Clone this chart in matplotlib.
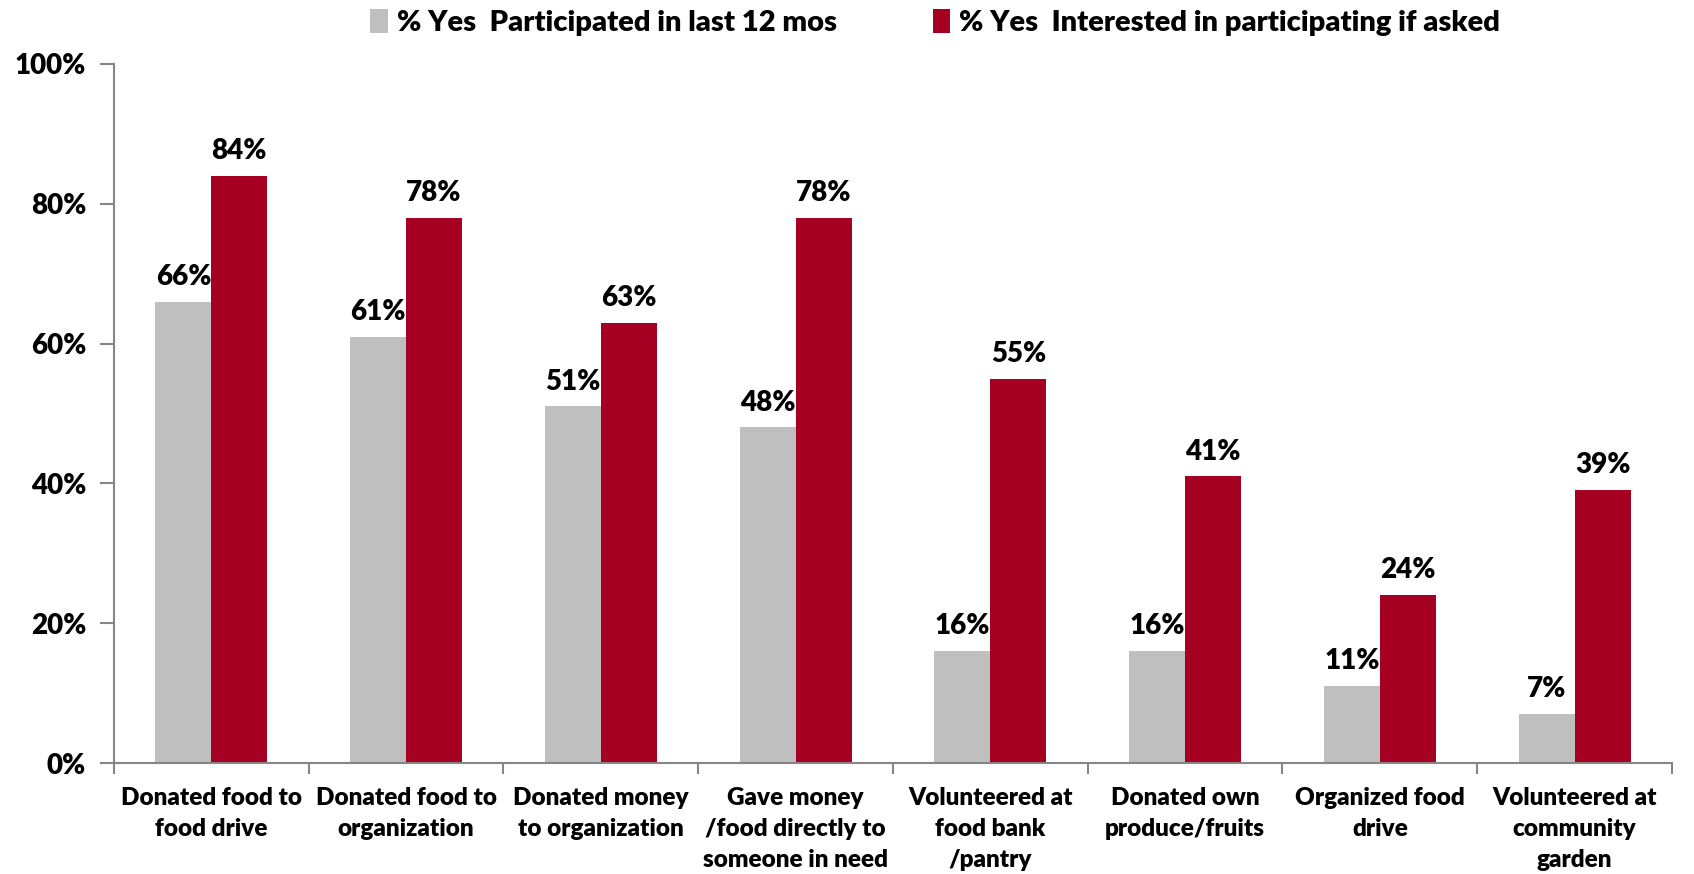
import matplotlib.pyplot as plt
import numpy as np
from matplotlib.ticker import PercentFormatter

plt.rcParams['font.family'] = ['Lato', 'DejaVu Sans']
plt.rcParams['font.weight'] = 'heavy'

categories = ['Donated food to\nfood drive', 'Donated food to\norganization',
              'Donated money\nto organization', 'Gave money\n/food directly to\nsomeone in need',
              'Volunteered at\nfood bank\n/pantry', 'Donated own\nproduce/fruits',
              'Organized food\ndrive', 'Volunteered at\ncommunity\ngarden']
participated = [66, 61, 51, 48, 16, 16, 11, 7]
interested = [84, 78, 63, 78, 55, 41, 24, 39]
series_names = ['% Yes  Participated in last 12 mos', '% Yes  Interested in participating if asked']
colors = ['#BFBFBF', '#A50021']

fig = plt.figure(figsize=(16.94, 8.74), dpi=100)
ax = fig.add_axes([0.0673, 0.127, 0.9197, 0.7998])

x = np.arange(len(categories))
w = 0.2875
b1 = ax.bar(x - w / 2, participated, w, color=colors[0], label=series_names[0])
b2 = ax.bar(x + w / 2, interested, w, color=colors[1], label=series_names[1])

# value labels above every bar
for bars, vals in ((b1, participated), (b2, interested)):
    for rect, v in zip(bars, vals):
        ax.text(rect.get_x() + rect.get_width() / 2, v + 1.7, f'{v}%',
                ha='center', va='bottom', fontsize=20, fontweight='heavy')

ax.set_xlim(-0.5, len(categories) - 0.5)
ax.set_ylim(0, 100)
ax.set_yticks(range(0, 101, 20))
ax.yaxis.set_major_formatter(PercentFormatter(decimals=0))

# category names centred, tick marks on the boundaries
ax.set_xticks(x)
ax.set_xticklabels(categories, fontsize=17.5, fontweight='heavy', linespacing=1.5)
ax.set_xticks(np.arange(-0.5, len(categories)), minor=True)
ax.tick_params(axis='x', which='major', length=0, pad=17)
ax.tick_params(axis='x', which='minor', length=8, color='#868686', width=1.5)
ax.tick_params(axis='y', length=10, color='#868686', width=1.5, labelsize=20, pad=10)
for lab in ax.get_yticklabels():
    lab.set_fontweight('heavy')

for s in ('top', 'right'):
    ax.spines[s].set_visible(False)
for s in ('left', 'bottom'):
    ax.spines[s].set_color('#868686')
    ax.spines[s].set_linewidth(1.5)

fig.legend(loc='upper center', bbox_to_anchor=(0.552, 1.02), ncol=2, frameon=False,
           handlelength=0.6, handleheight=0.9, handletextpad=0.3,
           columnspacing=3.3, prop={'weight': 'heavy', 'size': 21})

fig.savefig('out.png', dpi=100)
